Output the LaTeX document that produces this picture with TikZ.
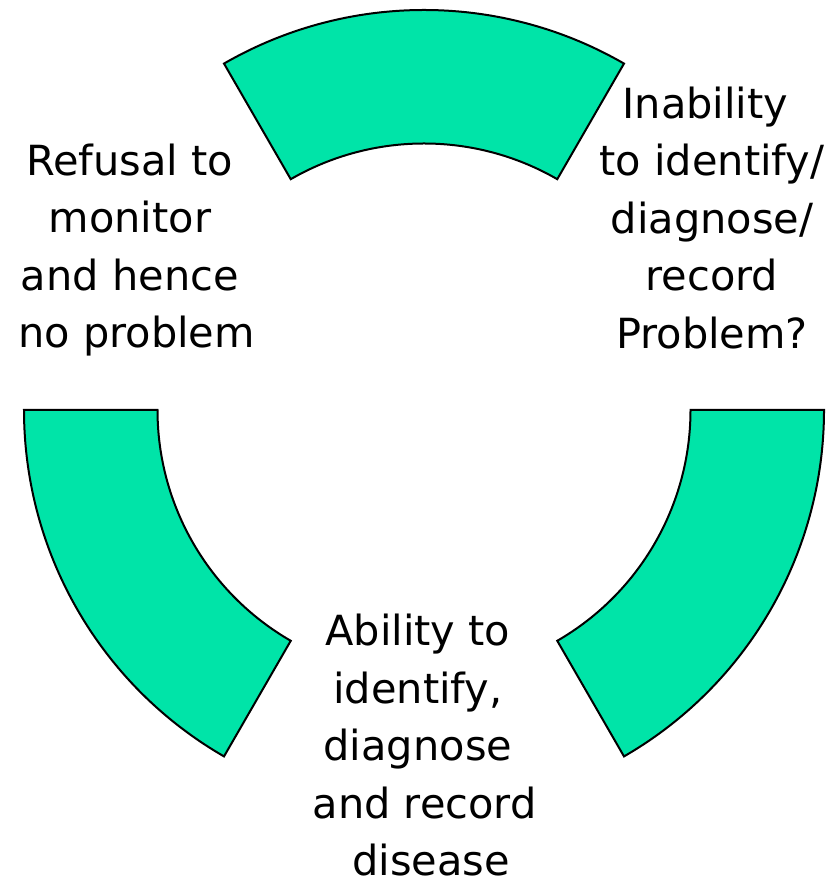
\documentclass[tikz,border=0pt]{standalone}
\usepackage{fontspec}
\setmainfont{DejaVu Sans}
\definecolor{bandgreen}{RGB}{0,228,168}
\newcommand{\gap}{\kern.32em}

\begin{document}
\begin{tikzpicture}[x=0.5pt,y=0.5pt]

\tikzset{band/.style={draw=black, line width=1pt, fill=bandgreen},
  cycletext/.style={anchor=north, align=center, inner sep=0pt, font=\fontsize{20.75}{28.75}\selectfont}}

\useasboundingbox (0,0) rectangle (833,882);
\coordinate (C) at (424,472);

\draw[band] ([shift={(60:400)}]C) arc (60:120:400) -- ([shift={(120:266.5)}]C) arc (120:60:266.5) -- cycle;
\draw[band] ([shift={(180:400)}]C) arc (180:240:400) -- ([shift={(240:266.5)}]C) arc (240:180:266.5) -- cycle;
\draw[band] ([shift={(300:400)}]C) arc (300:360:400) -- ([shift={(360:266.5)}]C) arc (360:300:266.5) -- cycle;

\node[cycletext] (refusal) at (136.5,738.5) {Refusal to\gap\\monitor\gap\\and hence\gap\\no problem};
\node[cycletext] (inability) at (712,795.5) {Inability\gap\\to identify/\\diagnose/\\record\\Problem?};
\node[cycletext] (ability) at (424.5,268) {Ability to\gap\\identify,\gap\\diagnose\gap\\and record\\\gap disease};

\end{tikzpicture}
\end{document}
